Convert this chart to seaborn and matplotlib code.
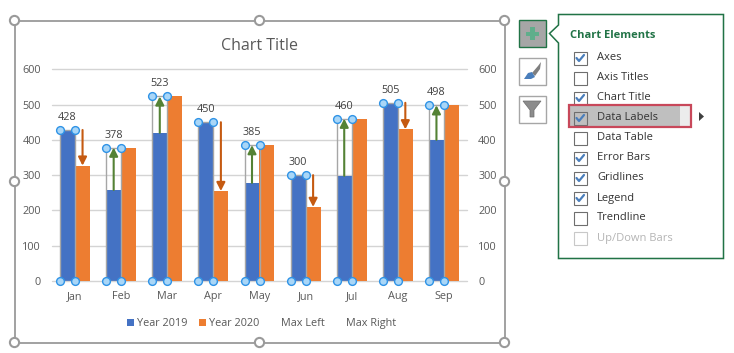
import numpy as np
import pandas as pd
import matplotlib
matplotlib.use("Agg")
import matplotlib.pyplot as plt
from matplotlib.patches import Rectangle, Polygon, Circle, Patch
import seaborn as sns

months = ["Jan", "Feb", "Mar", "Apr", "May", "Jun", "Jul", "Aug", "Sep"]
year_2019 = [428, 258, 420, 450, 278, 300, 298, 505, 400]
year_2020 = [327, 378, 523, 255, 385, 210, 460, 430, 498]
max_left = [428, 378, 523, 450, 385, 300, 460, 505, 498]
max_right = [428, 378, 523, 450, 385, 300, 460, 505, 498]
y_ticks = [0, 100, 200, 300, 400, 500, 600]
menu_items = ["Axes", "Axis Titles", "Chart Title", "Data Labels", "Data Table",
              "Error Bars", "Gridlines", "Legend", "Trendline", "Up/Down Bars"]
menu_checked = [True, False, True, True, False, True, True, True, False, False]

W, H = 734, 353
FONT = "Open Sans"
GREY = "#595959"
BLUE, ORANGE = "#4472C4", "#ED7D31"
UP, DOWN = "#548235", "#C55A11"
XL = "#217346"

sns.set_theme(style="white")
plt.rcParams["font.family"] = [FONT, "DejaVu Sans"]

fig = plt.figure(figsize=(W / 100, H / 100), dpi=100, facecolor="white")

# ---- pixel-space layer: the selection frame and the Excel side menu
ui = fig.add_axes([0, 0, 1, 1], zorder=0)
ui.set_xlim(0, W)
ui.set_ylim(H, 0)
ui.axis("off")

ui.add_patch(Rectangle((14.5, 20.5), 490, 322, fill=False, ec="#9a9a9a", lw=1.3))
for hx in (14.5, 259.5, 504.5):
    for hy in (20.5, 181.5, 342.5):
        if hx == 259.5 and hy == 181.5:
            continue
        ui.add_patch(Circle((hx, hy), 4.6, fc="white", ec="#9a9a9a", lw=1.5, zorder=5))

# buttons
ui.add_patch(Rectangle((518.5, 19.5), 27, 27, fc="#a6a6a6", ec=XL, lw=1))
ui.add_patch(Rectangle((530, 27), 4.5, 13, fc="#5fae8b", ec="none"))
ui.add_patch(Rectangle((525.5, 31.5), 13, 4.5, fc="#5fae8b", ec="none"))
for by in (57.5, 95.5):
    ui.add_patch(Rectangle((518.5, by), 27, 27, fc="white", ec="#a6a6a6", lw=1))
ui.add_patch(Polygon([(532, 73), (538, 66), (541, 62), (540, 69), (535, 76)], fc="#7f7f7f", ec="none"))
ui.add_patch(Polygon([(524, 79), (528, 73), (532, 72), (535, 77), (531, 79)], fc="#4a7ebb", ec="none"))
ui.add_patch(Polygon([(523, 101), (541, 101), (534, 110), (534, 117), (530, 117), (530, 110)],
                     fc="#8c8c8c", ec="#6e6e6e", lw=0.5))

# panel
ui.add_patch(Polygon([(558.5, 14.5), (723.5, 14.5), (723.5, 258.5), (558.5, 258.5),
                      (558.5, 43), (549.5, 33.5), (558.5, 25)],
                     closed=True, fc="white", ec=XL, lw=1.1))
ui.text(570, 35, "Chart Elements", color=XL, fontsize=8, fontweight="bold", va="center", ha="left")

for i, (item, checked) in enumerate(zip(menu_items, menu_checked)):
    cy = 58 + 20 * i
    disabled = item.startswith("Up/")
    if item == "Data Labels":
        ui.add_patch(Rectangle((569, 105.5), 111, 21, fc="#bfbfbf", ec="none"))
        ui.add_patch(Rectangle((680, 105.5), 11, 21, fc="#ececec", ec="none"))
        ui.add_patch(Rectangle((569, 105), 122, 22, fill=False, ec="#c8485a", lw=1.6, zorder=4))
        ui.add_patch(Polygon([(699, 112), (704, 116.5), (699, 121)], fc="#404040", ec="none"))
    ui.add_patch(Rectangle((573.5, cy - 6.5), 13, 13, fc="none" if item == "Data Labels" else "white",
                           ec="#c8c8c8" if disabled else "#6e6e6e", lw=0.8))
    if checked:
        ui.plot([576.5, 579, 584], [cy, cy + 3, cy - 3], color="#4a7ebb", lw=1.6)
    ui.text(597, cy, item, fontsize=8, va="center", ha="left",
            color="#b4b4b4" if disabled else "#333333")

# ---- the chart
ax = fig.add_axes([52 / W, 1 - 281 / H, (467 - 52) / W, (281 - 69.3) / H], zorder=1)
ax.patch.set_visible(False)

long_df = pd.DataFrame({
    "month": months * 2,
    "value": year_2019 + year_2020,
    "series": ["Year 2019"] * 9 + ["Year 2020"] * 9,
})
sns.barplot(data=long_df, x="month", y="value", hue="series", order=months,
            palette=[BLUE, ORANGE], width=0.65, gap=0, saturation=1, linewidth=0,
            legend=False, ax=ax, zorder=2)
blue_bars = ax.patches[:9]

max_df = pd.DataFrame({
    "month": months * 2,
    "value": max_left + max_right,
    "series": ["Max Left"] * 9 + ["Max Right"] * 9,
})
before = len(ax.patches)
sns.barplot(data=max_df, x="month", y="value", hue="series", order=months,
            palette=["#a6a6a6", "#a6a6a6"], width=0.65, gap=0, fill=False,
            linewidth=1.0, legend=False, ax=ax, zorder=3)
max_bars = ax.patches[before:]
left_bars, right_bars = max_bars[:9], max_bars[9:]
for p in right_bars:
    p.set_visible(False)
# seaborn insets unfilled bars by their line width: align them with the blue columns again
for p, blue, m in zip(left_bars, blue_bars, max_left):
    p.set_x(blue.get_x())
    p.set_width(blue.get_width())
    p.set_y(0)
    p.set_height(m)

ax.set_xlim(-0.5, 8.5)
ax.set_ylim(0, 600)
ax.set_yticks(y_ticks)
ax.set_xlabel("")
ax.set_ylabel("")
ax.grid(axis="y", color="#d4d4d4", lw=1.0, zorder=0)
ax.set_axisbelow(True)
for line in ax.get_ygridlines():
    line.set_clip_on(False)
sns.despine(ax=ax, left=True, bottom=True, right=True, top=True)
ax.tick_params(axis="y", length=0, pad=8, labelsize=7.8, labelcolor=GREY, labelright=True)
ax.tick_params(axis="x", length=0, pad=7, labelsize=7.8, labelcolor=GREY)

# error-bar style arrows, selection circles and data labels
for i, bar in enumerate(left_bars):
    a, b = year_2019[i], year_2020[i]
    x0 = bar.get_x()
    w = bar.get_width()
    xc = x0 + w / 2
    if b >= a:
        x_arrow, col = xc, UP
    else:
        x_arrow, col = xc + w, DOWN
    ax.annotate("", xy=(x_arrow, b), xytext=(x_arrow, a), zorder=4, annotation_clip=False,
                arrowprops=dict(arrowstyle="-|>,head_width=0.28,head_length=0.55", color=col,
                                lw=1.5, shrinkA=0, shrinkB=0, mutation_scale=9))
    top = bar.get_height()
    for px in (x0, x0 + w):
        for py in (0, top):
            ax.plot([px], [py], marker="o", ms=5.6, mfc="#a9d6f7", mec="#2f93e6", mew=1.0,
                    clip_on=False, zorder=6, ls="none")
    ax.annotate(str(max_left[i]), xy=(xc, top), xytext=(0, 9.0), textcoords="offset points",
                ha="center", va="center", fontsize=7.8, color="#404040", zorder=7)

ax.set_title("Chart Title", x=(259.5 - 52) / (467 - 52), y=1, pad=14, fontsize=11.5, color=GREY)

handles = [Patch(fc=BLUE, ec="none"), Patch(fc=ORANGE, ec="none"),
           Patch(fc="none", ec="none"), Patch(fc="none", ec="none")]
fig.legend(handles, ["Year 2019", "Year 2020", "Max Left", "Max Right"], ncol=4,
           loc="center", bbox_to_anchor=(261.5 / W, 1 - 323.5 / H), frameon=False,
           fontsize=7.8, labelcolor=GREY, handlelength=0.62, handleheight=0.62,
           handletextpad=0.3, columnspacing=1.04, borderpad=0, borderaxespad=0)

fig.savefig("out.png", dpi=100)
